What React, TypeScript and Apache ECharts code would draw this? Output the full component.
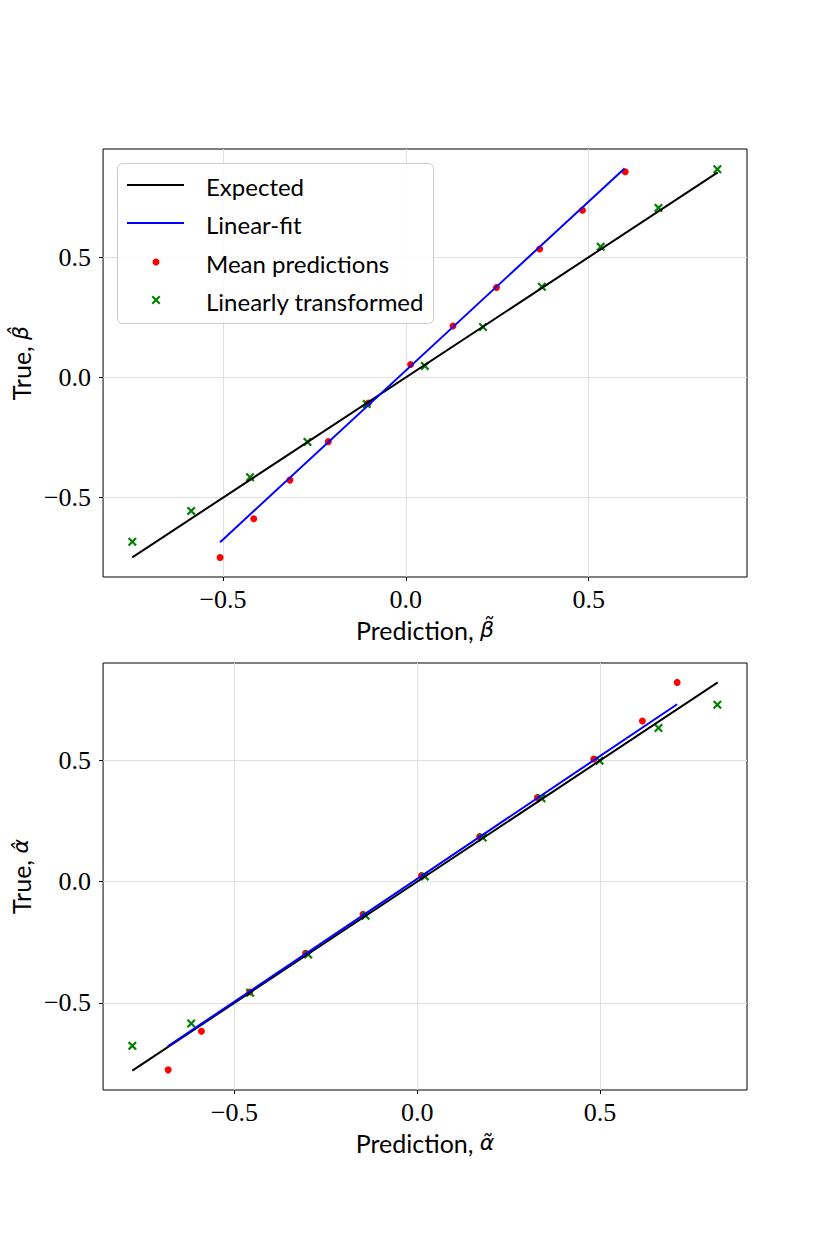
import React, { useEffect, useRef } from 'react';
import * as echarts from 'echarts';

// ---- data ----
const tickValues = [-0.5, 0, 0.5];

// top panel: beta
const betaExpected = [-0.748, 0.853];
const betaFitX = [-0.508, 0.598];
const betaFitY = [-0.685, 0.869];
const betaMeanX = [-0.508, -0.416, -0.317, -0.212, -0.103, 0.013, 0.129, 0.248, 0.366, 0.483, 0.6];
const betaMeanY = [-0.749, -0.588, -0.427, -0.267, -0.107, 0.054, 0.214, 0.374, 0.534, 0.695, 0.855];
const betaTransX = [-0.748, -0.587, -0.426, -0.269, -0.107, 0.052, 0.211, 0.372, 0.533, 0.691, 0.852];
const betaTransY = [-0.683, -0.555, -0.415, -0.268, -0.111, 0.048, 0.21, 0.377, 0.543, 0.705, 0.866];

// bottom panel: alpha
const alphaExpected = [-0.779, 0.822];
const alphaFitX = [-0.682, 0.711];
const alphaFitY = [-0.679, 0.732];
const alphaMeanX = [-0.681, -0.59, -0.458, -0.305, -0.148, 0.012, 0.171, 0.329, 0.483, 0.616, 0.711];
const alphaMeanY = [-0.776, -0.617, -0.455, -0.295, -0.134, 0.025, 0.186, 0.347, 0.506, 0.663, 0.822];
const alphaTransX = [-0.779, -0.618, -0.457, -0.298, -0.141, 0.021, 0.179, 0.34, 0.499, 0.66, 0.821];
const alphaTransY = [-0.677, -0.585, -0.458, -0.3, -0.14, 0.022, 0.182, 0.344, 0.499, 0.634, 0.73];

const legendNames = ['Expected', 'Linear-fit', 'Mean predictions', 'Linearly transformed'];

const SANS = 'Lato';
const SERIF = 'Liberation Serif';
const MATH = 'DejaVu Sans';
const X_PATH =
  'path://M0,1.7 L1.7,0 L5,3.3 L8.3,0 L10,1.7 L6.7,5 L10,8.3 L8.3,10 L5,6.7 L1.7,10 L0,8.3 L3.3,5 Z';

function zip(a: number[], b: number[]) {
  return a.map((v, i) => [v, b[i]]);
}

function limits(values: number[][]) {
  const all = values.flat();
  const lo = Math.min(...all);
  const hi = Math.max(...all);
  const m = (hi - lo) * 0.05;
  return [lo - m, hi + m];
}

function fmt(v: number) {
  return v.toFixed(1).replace('-', '\u2212');
}

function xMarkerPoints(cx: number, cy: number, s: number) {
  const pts = [
    [0, 1.7], [1.7, 0], [5, 3.3], [8.3, 0], [10, 1.7], [6.7, 5],
    [10, 8.3], [8.3, 10], [5, 6.7], [1.7, 10], [0, 8.3], [3.3, 5],
  ];
  return pts.map(([x, y]) => [cx + ((x - 5) * s) / 10, cy + ((y - 5) * s) / 10]);
}

function labelStyle(margin: number) {
  return {
    customValues: tickValues,
    formatter: (v: number) => fmt(v),
    fontFamily: SERIF,
    fontSize: 26,
    color: '#000',
    margin,
  };
}

function axisBase(min: number, max: number) {
  return {
    type: 'value',
    min,
    max,
    axisLine: { show: false, onZero: false },
    axisTick: {
      show: true,
      customValues: tickValues,
      length: 4,
      inside: false,
      lineStyle: { color: '#000', width: 1 },
    },
    splitLine: { show: true, lineStyle: { color: '#e0e0e0', width: 1 } },
  };
}

export default function App() {
  const ref = useRef<HTMLDivElement>(null);

  useEffect(() => {
    document.body.style.margin = '0';
    if (!ref.current) return;
    const chart = echarts.init(ref.current, null, { renderer: 'svg' });

    const betaX = limits([betaExpected, betaFitX, betaMeanX, betaTransX]);
    const betaY = limits([betaExpected, betaFitY, betaMeanY, betaTransY]);
    const alphaX = limits([alphaExpected, alphaFitX, alphaMeanX, alphaTransX]);
    const alphaY = limits([alphaExpected, alphaFitY, alphaMeanY, alphaTransY]);

    const nameRich = {
      a: { fontFamily: SANS, fontSize: 25, color: '#000' },
      b: { fontFamily: MATH, fontStyle: 'italic', fontSize: 22, color: '#000' },
    };

    const mkX = (i: number, lim: number[], sym: string) => ({
      ...axisBase(lim[0], lim[1]),
      gridIndex: i,
      name: `{a|Prediction, }{b|${sym}}`,
      nameLocation: 'middle',
      nameGap: 40,
      nameTextStyle: { rich: nameRich },
      axisLabel: labelStyle(9),
    });
    const mkY = (i: number, lim: number[], sym: string) => ({
      ...axisBase(lim[0], lim[1]),
      gridIndex: i,
      name: `{a|True, }{b|${sym}}`,
      nameLocation: 'middle',
      nameRotate: 90,
      nameGap: 64,
      nameTextStyle: { rich: nameRich },
      axisLabel: labelStyle(12),
    });

    const panelSeries = (
      i: number,
      exp: number[],
      fitX: number[],
      fitY: number[],
      mx: number[],
      my: number[],
      tx: number[],
      ty: number[]
    ) => [
      {
        name: legendNames[0],
        type: 'line',
        xAxisIndex: i,
        yAxisIndex: i,
        data: zip(exp, exp),
        showSymbol: false,
        lineStyle: { color: '#000', width: 2 },
        itemStyle: { color: '#000' },
        z: 4,
      },
      {
        name: legendNames[1],
        type: 'line',
        xAxisIndex: i,
        yAxisIndex: i,
        data: zip(fitX, fitY),
        showSymbol: false,
        lineStyle: { color: '#0000ff', width: 2 },
        itemStyle: { color: '#0000ff' },
        z: 5,
      },
      {
        name: legendNames[2],
        type: 'scatter',
        xAxisIndex: i,
        yAxisIndex: i,
        data: zip(mx, my),
        symbol: 'circle',
        symbolSize: 7,
        itemStyle: { color: '#ff0000', opacity: 1 },
        z: 2,
      },
      {
        name: legendNames[3],
        type: 'scatter',
        xAxisIndex: i,
        yAxisIndex: i,
        data: zip(tx, ty),
        symbol: X_PATH,
        symbolSize: 9,
        itemStyle: { color: '#008000', opacity: 1 },
        z: 3,
      },
    ];

    const rows = [185, 223, 262, 300];
    const legendGraphic: any[] = [
      {
        type: 'rect',
        shape: { x: 117.5, y: 163.5, width: 316, height: 160, r: 5 },
        style: { fill: 'rgba(255,255,255,0.8)', stroke: '#cccccc', lineWidth: 1 },
        z: 100,
      },
      {
        type: 'line',
        shape: { x1: 127, y1: rows[0], x2: 184, y2: rows[0] },
        style: { stroke: '#000', lineWidth: 2 },
        z: 101,
      },
      {
        type: 'line',
        shape: { x1: 127, y1: rows[1], x2: 184, y2: rows[1] },
        style: { stroke: '#0000ff', lineWidth: 2 },
        z: 101,
      },
      {
        type: 'circle',
        shape: { cx: 156, cy: rows[2], r: 3.5 },
        style: { fill: '#ff0000' },
        z: 101,
      },
      {
        type: 'polygon',
        shape: { points: xMarkerPoints(156, rows[3], 9) },
        style: { fill: '#008000' },
        z: 101,
      },
      ...legendNames.map((n, k) => ({
        type: 'text',
        x: 206,
        y: rows[k] + 1,
        style: {
          text: n,
          fontFamily: SANS,
          fontSize: 24,
          fill: '#000',
          verticalAlign: 'middle',
          align: 'left',
        },
        z: 101,
      })),
    ];

    chart.setOption({
      animation: false,
      backgroundColor: '#ffffff',
      grid: [
        { left: 103, top: 149, width: 644, height: 428, show: true, borderColor: '#000', borderWidth: 1, backgroundColor: 'transparent' },
        { left: 103, top: 663, width: 644, height: 427, show: true, borderColor: '#000', borderWidth: 1, backgroundColor: 'transparent' },
      ],
      xAxis: [mkX(0, betaX, 'β\u0303'), mkX(1, alphaX, 'α\u0303')],
      yAxis: [mkY(0, betaY, 'β\u0302'), mkY(1, alphaY, 'α\u0302')],
      series: [
        ...panelSeries(0, betaExpected, betaFitX, betaFitY, betaMeanX, betaMeanY, betaTransX, betaTransY),
        ...panelSeries(1, alphaExpected, alphaFitX, alphaFitY, alphaMeanX, alphaMeanY, alphaTransX, alphaTransY),
      ],
      graphic: legendGraphic,
    });

    return () => chart.dispose();
  }, []);

  return <div ref={ref} style={{ width: 830, height: 1246 }} />;
}
